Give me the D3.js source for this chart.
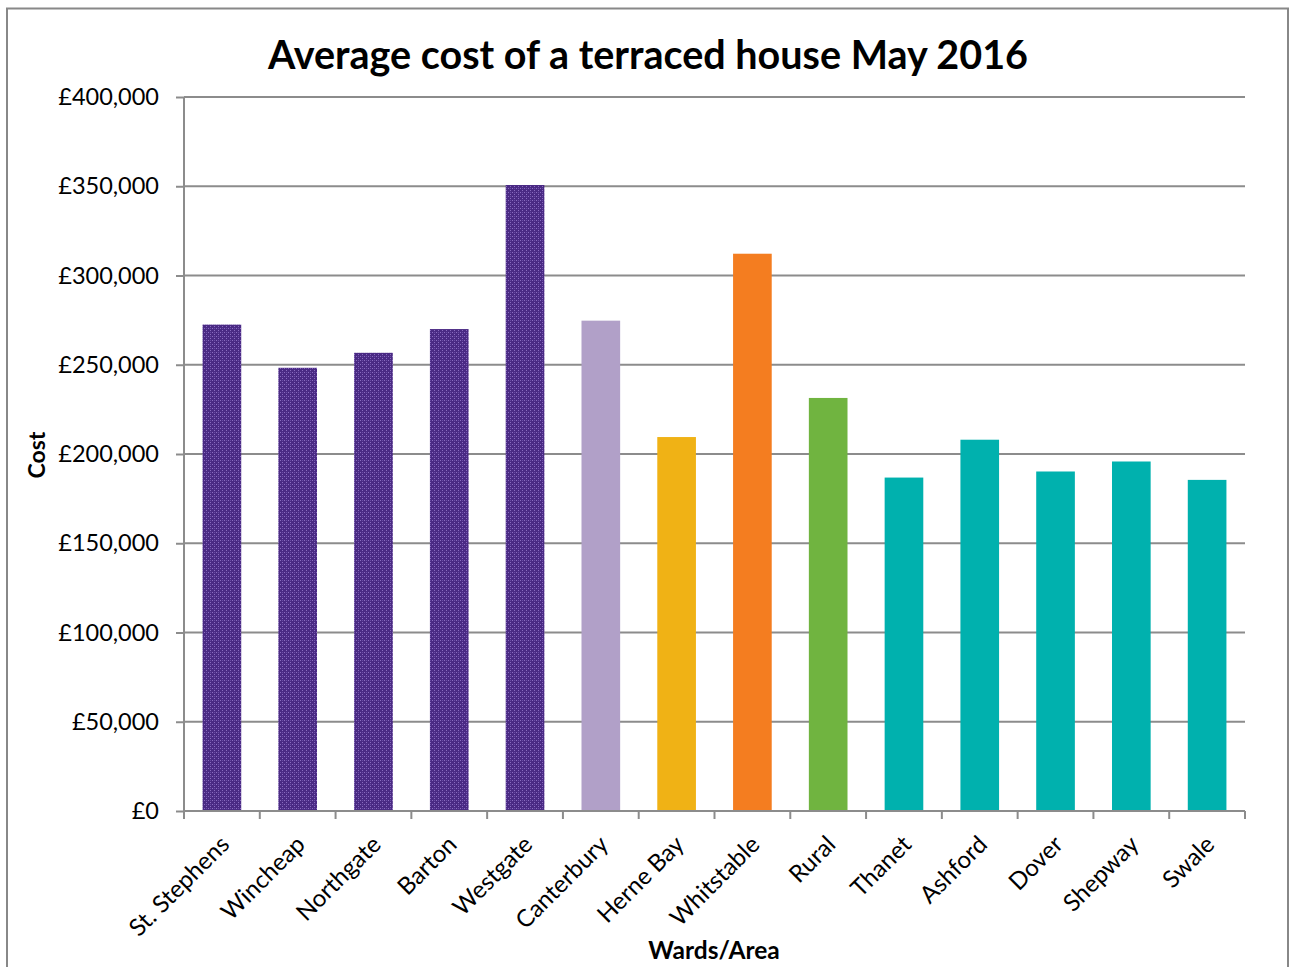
<!DOCTYPE html>
<html><head><meta charset="utf-8">
<script src="https://cdn.jsdelivr.net/npm/d3@7"></script>
<style>body{margin:0;background:#fff;} svg{display:block;}</style>
</head><body>
<script>
const categories = ["St. Stephens","Wincheap","Northgate","Barton","Westgate","Canterbury","Herne Bay","Whitstable","Rural","Thanet","Ashford","Dover","Shepway","Swale"];
const values = [272500,248300,256700,270000,350700,274700,209500,312200,231400,186800,208000,190200,195800,185500];
const barColors = ["url(#purp)","url(#purp)","url(#purp)","url(#purp)","url(#purp)","#b1a0c8","#f0b215","#f47d20","#70b440","#00b1ae","#00b1ae","#00b1ae","#00b1ae","#00b1ae"];
const yTicks = [0,50000,100000,150000,200000,250000,300000,350000,400000];

const W=1290,H=967;
const svg=d3.select("body").append("svg").attr("width",W).attr("height",H);
const defs=svg.append("defs");
const pat=defs.append("pattern").attr("id","purp").attr("patternUnits","userSpaceOnUse").attr("width",4).attr("height",4);
pat.append("rect").attr("width",4).attr("height",4).attr("fill","#4a2a84");
pat.append("rect").attr("x",0).attr("y",0).attr("width",1).attr("height",1).attr("fill","#8a6cc0");
pat.append("rect").attr("x",2).attr("y",2).attr("width",1).attr("height",1).attr("fill","#8a6cc0");
pat.append("rect").attr("x",2).attr("y",0).attr("width",1).attr("height",1).attr("fill","#6a4ca6");

svg.append("rect").attr("x",7).attr("y",8.5).attr("width",1281).attr("height",970).attr("fill","#fff").attr("stroke","#888").attr("stroke-width",2);

const m={l:184,r:1245,t:97,b:811};
const x=d3.scaleBand().domain(categories).range([m.l,m.r]).paddingInner(0.49).paddingOuter(0.245);
const y=d3.scaleLinear().domain([0,400000]).range([m.b,m.t]);
const font="Lato, 'Open Sans', sans-serif";

// gridlines
svg.append("g").selectAll("line").data(yTicks.filter(d=>d>0)).join("line")
  .attr("x1",m.l).attr("x2",m.r).attr("y1",d=>y(d)).attr("y2",d=>y(d))
  .attr("stroke","#8c8c8c").attr("stroke-width",2);

// bars
svg.append("g").selectAll("rect").data(categories).join("rect")
  .attr("x",d=>x(d)).attr("width",x.bandwidth())
  .attr("y",(d,i)=>y(values[i])).attr("height",(d,i)=>y(0)-y(values[i]))
  .attr("fill",(d,i)=>barColors[i]);

// y axis
const fmt=d=>"£"+d3.format(",")(d);
const ya=svg.append("g").attr("transform",`translate(${m.l},0)`)
  .call(d3.axisLeft(y).tickValues(yTicks).tickFormat(fmt).tickSize(8).tickPadding(17));
ya.select(".domain").attr("stroke","#8c8c8c").attr("stroke-width",2).attr("d",`M0,${m.t}V${m.b}`);
ya.selectAll(".tick line").attr("stroke","#8c8c8c").attr("stroke-width",2);
ya.selectAll(".tick text").attr("font-family",font).attr("font-size",23.5).attr("fill","#000");

// x axis
const xa=svg.append("g").attr("transform",`translate(0,${m.b})`)
  .call(d3.axisBottom(x).tickSize(0).tickPadding(0));
xa.select(".domain").attr("stroke","#8c8c8c").attr("stroke-width",2).attr("d",`M${m.l},0H${m.r}`);
xa.selectAll(".bt").data(d3.range(categories.length+1)).join("line").attr("class","bt")
  .attr("x1",i=>m.l+i*(m.r-m.l)/categories.length).attr("x2",i=>m.l+i*(m.r-m.l)/categories.length)
  .attr("y1",0).attr("y2",8).attr("stroke","#8c8c8c").attr("stroke-width",2);
xa.selectAll(".tick text").attr("font-family",font).attr("font-size",24).attr("fill","#000")
  .attr("text-anchor","end").attr("dy","0.35em")
  .attr("transform","translate(3,29) rotate(-45)");

// title
svg.append("text").attr("x",648).attr("y",69).attr("text-anchor","middle")
  .attr("font-family",font).attr("font-weight","bold").attr("font-size",39.5).text("Average cost of a terraced house May 2016");
// axis titles
svg.append("text").attr("transform","translate(45,455) rotate(-90)").attr("text-anchor","middle")
  .attr("font-family",font).attr("font-weight","bold").attr("font-size",23).text("Cost");
svg.append("text").attr("x",714).attr("y",959).attr("text-anchor","middle")
  .attr("font-family",font).attr("font-weight","bold").attr("font-size",24.5).text("Wards/Area");
</script>
</body></html>
